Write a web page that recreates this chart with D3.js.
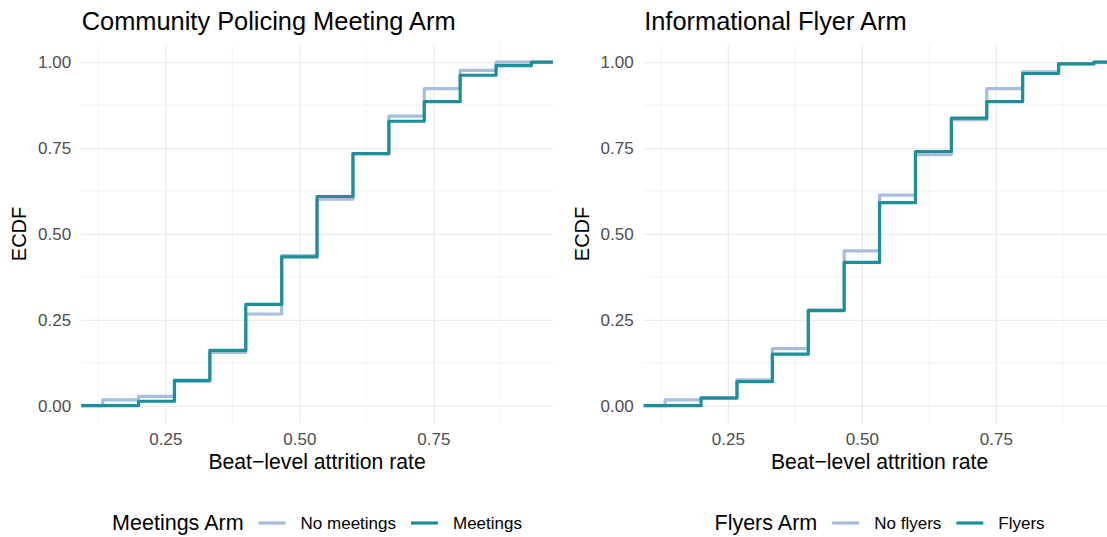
<!DOCTYPE html>
<html lang="en">
<head>
<meta charset="utf-8">
<title>ECDF of beat-level attrition</title>
<style>
  body { margin: 0; background: #fff; }
  svg text { font-family: "Liberation Sans", Arial, sans-serif; }
</style>
</head>
<body>
<script src="https://cdn.jsdelivr.net/npm/d3@7"></script>
<script>
// attrition rates where the ECDF steps up
var xSteps = [0.133, 0.2, 0.267, 0.333, 0.4, 0.467, 0.533, 0.6, 0.667, 0.733, 0.8, 0.867, 0.933];

// ECDF value just after each step
var noMeetings = [0.017, 0.027, 0.071, 0.155, 0.267, 0.437, 0.601, 0.734, 0.843, 0.923, 0.976, 1.0, 1.0];
var meetings   = [0.0,   0.013, 0.074, 0.161, 0.295, 0.433, 0.609, 0.734, 0.828, 0.885, 0.962, 0.990, 1.0];
var noFlyers   = [0.017, 0.024, 0.075, 0.166, 0.279, 0.451, 0.613, 0.731, 0.833, 0.923, 0.972, 0.996, 1.0];
var flyers     = [0.0,   0.022, 0.070, 0.150, 0.277, 0.417, 0.591, 0.740, 0.837, 0.885, 0.967, 0.995, 1.0];

var xTicks = [0.25, 0.50, 0.75];
var yTicks = [0, 0.25, 0.5, 0.75, 1];

var panels = [
  {title: "Community Policing Meeting Arm", legendTitle: "Meetings Arm",
   names: ["No meetings", "Meetings"], series: [noMeetings, meetings], left: 81.2},
  {title: "Informational Flyer Arm", legendTitle: "Flyers Arm",
   names: ["No flyers", "Flyers"], series: [noFlyers, flyers], left: 643.7}
];

var colors = ["#a6bddb", "#1c9099"];
var w = 1107, h = 537;
var pw = 471.7, pTop = 45, pBottom = 422.9;

var svg = d3.select("body").append("svg").attr("width", w).attr("height", h);

// ggplot-ish expansion of the data range
var xmin = d3.min(xSteps), xmax = d3.max(xSteps);
var pad = (xmax - xmin) * 0.05;
var y = d3.scaleLinear().domain([-0.05, 1.05]).range([pBottom, pTop]);

panels.forEach(function(p) {
  var x = d3.scaleLinear().domain([xmin - pad, xmax + pad]).range([p.left, p.left + pw]);
  var g = svg.append("g");

  // minor grid
  var xMinor = [0.125, 0.375, 0.625, 0.875];
  var yMinor = [0.125, 0.375, 0.625, 0.875];
  g.selectAll(".xmin").data(xMinor).enter().append("line")
    .attr("x1", function(d){ return x(d); }).attr("x2", function(d){ return x(d); })
    .attr("y1", pTop).attr("y2", pBottom)
    .attr("stroke", "#ebebeb").attr("stroke-width", 0.6);
  g.selectAll(".ymin").data(yMinor).enter().append("line")
    .attr("x1", p.left).attr("x2", p.left + pw)
    .attr("y1", function(d){ return y(d); }).attr("y2", function(d){ return y(d); })
    .attr("stroke", "#ebebeb").attr("stroke-width", 0.6);

  // major grid + labels via axes
  var xa = d3.axisBottom(x).tickValues(xTicks).tickSize(-(pBottom - pTop)).tickPadding(10)
    .tickFormat(d3.format(".2f"));
  var xg = g.append("g").attr("transform", "translate(0," + pBottom + ")").call(xa);
  var ya = d3.axisLeft(y).tickValues(yTicks).tickSize(-pw).tickPadding(10)
    .tickFormat(d3.format(".2f"));
  var yg = g.append("g").attr("transform", "translate(" + p.left + ",0)").call(ya);
  [xg, yg].forEach(function(a) {
    a.select(".domain").remove();
    a.selectAll("line").attr("stroke", "#ebebeb").attr("stroke-width", 1.2);
    a.selectAll("text").attr("fill", "#4d4d4d").style("font-size", "17px");
  });
  xg.selectAll("text").attr("dy", null).attr("y", 22);

  // ECDF steps
  var line = d3.line()
    .x(function(d){ return x(d[0]); })
    .y(function(d){ return y(d[1]); })
    .curve(d3.curveStepAfter);
  p.series.forEach(function(s, i) {
    var pts = [[xmin - pad, 0]];
    xSteps.forEach(function(v, j){ pts.push([v, s[j]]); });
    pts.push([xmax + pad, 1]);
    g.append("path").attr("d", line(pts))
      .attr("fill", "none").attr("stroke", colors[i])
      .attr("stroke-width", 3.2).attr("stroke-linejoin", "round");
  });

  // titles
  g.append("text").attr("x", p.left + 0.5).attr("y", 30)
    .style("font-size", "25.4px").attr("fill", "#000").text(p.title);
  var cx = p.left + pw / 2;
  g.append("text").attr("x", cx).attr("y", 469).attr("text-anchor", "middle")
    .style("font-size", "21.2px").attr("fill", "#000").text("Beat\u2212level attrition rate");
  g.append("text").attr("transform", "translate(" + (p.left - 55) + "," + ((pTop + pBottom) / 2) + ") rotate(-90)")
    .attr("text-anchor", "middle").style("font-size", "20px").attr("fill", "#000").text("ECDF");

  // legend, centred under the panel
  var lg = g.append("g");
  var cur = 0;
  var t = lg.append("text").attr("x", cur).attr("y", 530).style("font-size", "21.5px")
    .attr("fill", "#000").text(p.legendTitle);
  cur += t.node().getComputedTextLength() + 15;
  p.names.forEach(function(n, i) {
    lg.append("line").attr("x1", cur).attr("x2", cur + 27).attr("y1", 523).attr("y2", 523)
      .attr("stroke", colors[i]).attr("stroke-width", 3.2);
    cur += 42;
    var lt = lg.append("text").attr("x", cur).attr("y", 529).style("font-size", "17px")
      .attr("fill", "#000").text(n);
    cur += lt.node().getComputedTextLength() + 15;
  });
  cur -= 15;
  lg.attr("transform", "translate(" + (cx - cur / 2) + ",0)");
});
</script>
</body>
</html>
